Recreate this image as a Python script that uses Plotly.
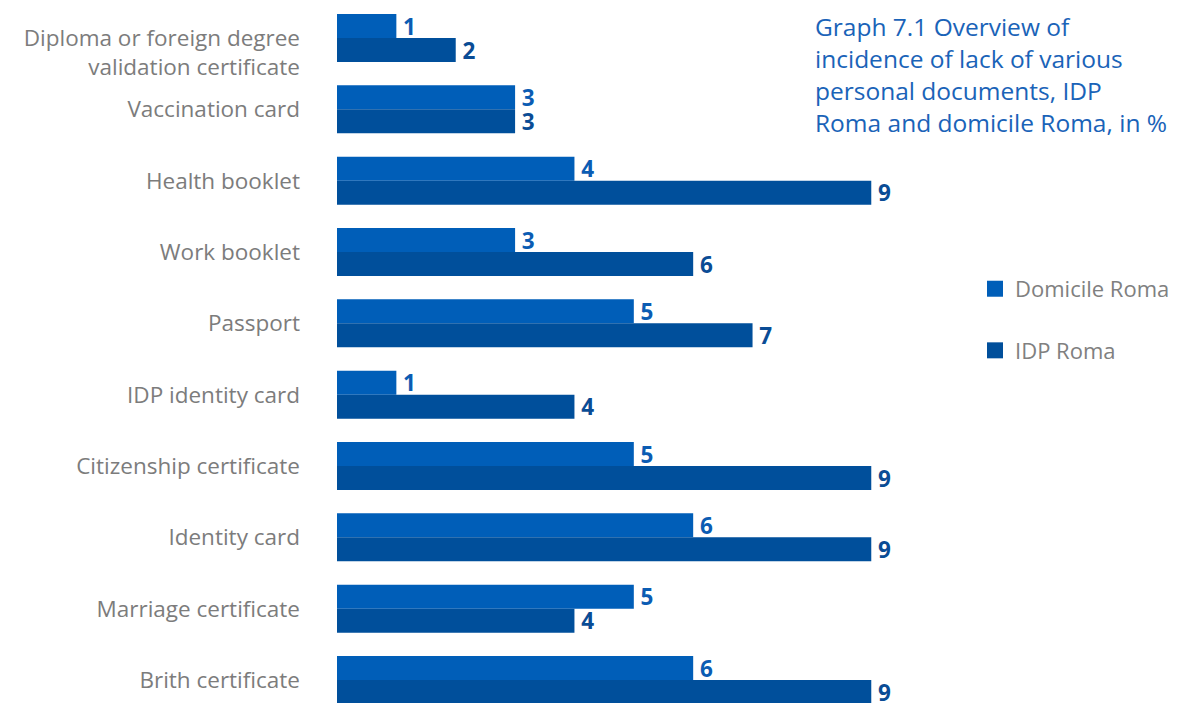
import plotly.graph_objects as go

categories = [
    "<br>Diploma or foreign degree<br>validation certificate",
    "Vaccination card",
    "Health booklet",
    "Work booklet",
    "Passport",
    "IDP identity card",
    "Citizenship certificate",
    "Identity card",
    "Marriage certificate",
    "Brith certificate",
]
domicile_roma = [1, 3, 4, 3, 5, 1, 5, 6, 5, 6]
idp_roma = [2, 3, 9, 6, 7, 4, 9, 9, 4, 9]

title_text = ("Graph 7.1 Overview of<br>incidence of lack of various<br>"
              "personal documents, IDP<br>Roma and domicile Roma, in %")

C_DOM = "#005EB8"
C_IDP = "#004F9B"
FONT = "Open Sans"

fig = go.Figure()
fig.add_trace(go.Bar(
    y=categories, x=domicile_roma, orientation="h", name="Domicile Roma",
    marker=dict(color=C_DOM, line=dict(width=0)),
    text=domicile_roma, texttemplate="\u2009<b>%{x}</b>", textposition="outside",
    constraintext="none",
    textfont=dict(family=FONT, size=22.5, color="#0B5CB3"),
    cliponaxis=False, showlegend=False, hoverinfo="skip",
))
fig.add_trace(go.Bar(
    y=categories, x=idp_roma, orientation="h", name="IDP Roma",
    marker=dict(color=C_IDP, line=dict(width=0)),
    text=idp_roma, texttemplate="\u2009<b>%{x}</b>", textposition="outside",
    constraintext="none",
    textfont=dict(family=FONT, size=22.5, color="#0A4C95"),
    cliponaxis=False, showlegend=False, hoverinfo="skip",
))
# legend entries
for name, col in [("Domicile Roma", C_DOM), ("IDP Roma", C_IDP)]:
    fig.add_trace(go.Scatter(
        x=[None], y=[None], mode="markers", name=name, legendgroup=name,
        marker=dict(symbol="square", size=20, color=col),
    ))

fig.update_layout(
    template="none",
    width=1175, height=695,
    margin=dict(l=329, r=193, t=0, b=0, autoexpand=False),
    paper_bgcolor="white", plot_bgcolor="white",
    barmode="group", bargap=0.327, bargroupgap=0,
    font=dict(family=FONT, color="#808080"),
    xaxis=dict(range=[0, 11], visible=False, fixedrange=True, automargin=False),
    yaxis=dict(
        categoryorder="array", categoryarray=categories, automargin=False,
        range=[9.3224, -0.4206], showgrid=False, zeroline=False,
        showline=False, ticks="", ticklabelstandoff=36,
        tickfont=dict(family=FONT, size=22.5, color="#7C7C7C"),
    ),
    legend=dict(
        xref="container", yref="container", x=0.823, y=0.626,
        xanchor="left", yanchor="top",
        font=dict(family=FONT, size=22, color="#808080"),
        traceorder="grouped", tracegroupgap=30, itemsizing="trace",
        bgcolor="rgba(0,0,0,0)",
    ),
    annotations=[dict(
        text=title_text, xref="paper", yref="paper",
        x=0.729, y=1.0, xanchor="left", yanchor="top", align="left",
        showarrow=False,
        font=dict(family=FONT, size=24.5, color="#1A63B8"),
    )],
)

fig.write_html("out.html")
